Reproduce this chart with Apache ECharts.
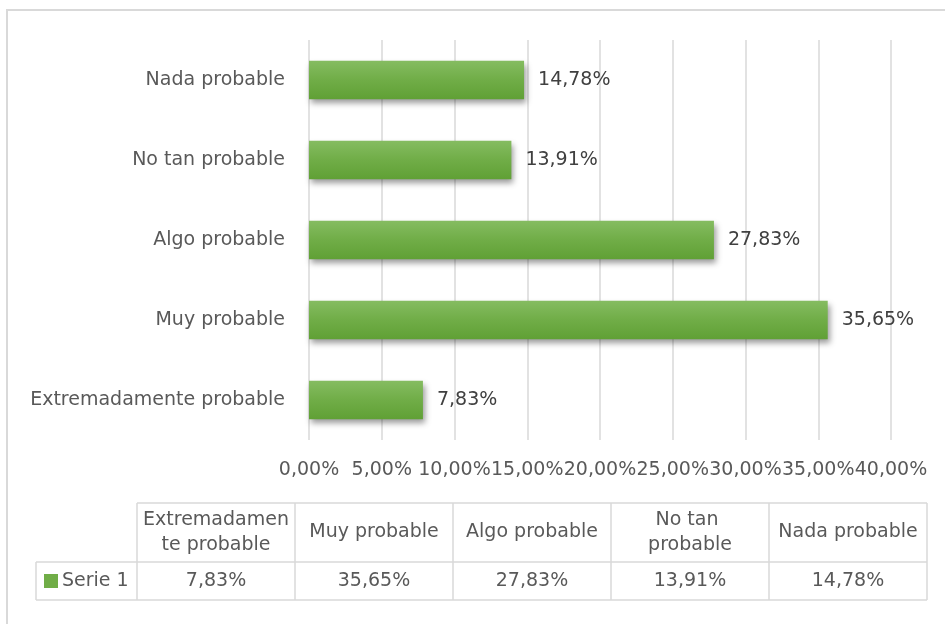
<!DOCTYPE html>
<html>
<head>
<meta charset="utf-8">
<script src="https://cdn.jsdelivr.net/npm/echarts@6/dist/echarts.min.js"></script>
<style>
  html, body { margin: 0; padding: 0; background: #fff; }
  #chart { width: 945px; height: 624px; }
</style>
</head>
<body>
<div id="chart"></div>
<script>
// Survey answers, listed bottom-to-top on the chart and left-to-right in the table
const categories = ['Extremadamente probable', 'Muy probable', 'Algo probable', 'No tan probable', 'Nada probable'];
const serie1 = [7.83, 35.65, 27.83, 13.91, 14.78];
const seriesName = 'Serie 1';

const FONT = 'DejaVu Sans';
const FS = 19;
const TXT = '#595959';
const pct = v => v.toFixed(2).replace('.', ',') + '%';

const chart = echarts.init(document.getElementById('chart'), null, { renderer: 'canvas' });

// Data table under the plot: one header row of categories, one row of values
const tbl = { left: 36, firstCol: 137, colW: 158, top: 503, headH: 59, rowH: 38 };
const tableGraphics = [];
const lineStyle = { stroke: '#d9d9d9', lineWidth: 1.5 };
const right = tbl.firstCol + categories.length * tbl.colW;
const midY = tbl.top + tbl.headH;
const botY = midY + tbl.rowH;
// horizontal rules
tableGraphics.push({ type: 'line', shape: { x1: tbl.firstCol, y1: tbl.top, x2: right, y2: tbl.top }, style: lineStyle, silent: true });
tableGraphics.push({ type: 'line', shape: { x1: tbl.left, y1: midY, x2: right, y2: midY }, style: lineStyle, silent: true });
tableGraphics.push({ type: 'line', shape: { x1: tbl.left, y1: botY, x2: right, y2: botY }, style: lineStyle, silent: true });
// vertical rules
tableGraphics.push({ type: 'line', shape: { x1: tbl.left, y1: midY, x2: tbl.left, y2: botY }, style: lineStyle, silent: true });
for (let i = 0; i <= categories.length; i++) {
  const x = tbl.firstCol + i * tbl.colW;
  tableGraphics.push({ type: 'line', shape: { x1: x, y1: tbl.top, x2: x, y2: botY }, style: lineStyle, silent: true });
}
// header + value cells
categories.forEach((c, i) => {
  const cx = tbl.firstCol + (i + 0.5) * tbl.colW;
  tableGraphics.push({
    type: 'text', x: cx, y: tbl.top + tbl.headH / 2,
    style: { text: c, width: tbl.colW - 10, overflow: 'break', fill: TXT, font: FS + 'px ' + FONT,
             align: 'center', verticalAlign: 'middle', lineHeight: 25 }
  });
  tableGraphics.push({
    type: 'text', x: cx, y: midY + tbl.rowH / 2,
    style: { text: pct(serie1[i]), fill: TXT, font: FS + 'px ' + FONT, align: 'center', verticalAlign: 'middle' }
  });
});
// legend key in the first column
tableGraphics.push({ type: 'rect', shape: { x: 44, y: 574, width: 14, height: 14 }, style: { fill: '#70ad47' } });
tableGraphics.push({
  type: 'text', x: 62, y: midY + tbl.rowH / 2,
  style: { text: seriesName, fill: TXT, font: FS + 'px ' + FONT, align: 'left', verticalAlign: 'middle' }
});
// chart-area frame
tableGraphics.push({ type: 'rect', shape: { x: 7, y: 10, width: 960, height: 640 }, style: { fill: 'none', stroke: '#d9d9d9', lineWidth: 2 }, silent: true });

chart.setOption({
  backgroundColor: '#fff',
  animation: false,
  grid: { left: 309, right: 54, top: 40, bottom: 184, containLabel: false },
  xAxis: {
    type: 'value', min: 0, max: 40, interval: 5,
    axisLine: { show: false }, axisTick: { show: false },
    splitLine: { show: true, lineStyle: { color: '#d9d9d9', width: 1.5 } },
    axisLabel: { color: TXT, fontFamily: FONT, fontSize: FS, margin: 21, formatter: v => pct(v) }
  },
  yAxis: {
    type: 'category', data: categories,
    axisLine: { show: false }, axisTick: { show: false },
    axisLabel: { color: TXT, fontFamily: FONT, fontSize: FS, margin: 24 }
  },
  series: [{
    name: seriesName, type: 'bar', data: serie1, barCategoryGap: '52%',
    itemStyle: {
      color: new echarts.graphic.LinearGradient(0, 0, 0, 1, [
        { offset: 0, color: '#85bc61' },
        { offset: 0.5, color: '#70ad47' },
        { offset: 1, color: '#60a035' }
      ]),
      shadowColor: 'rgba(0,0,0,0.4)', shadowBlur: 6, shadowOffsetX: 2, shadowOffsetY: 4
    },
    label: { show: true, position: 'right', distance: 14, color: '#404040', fontFamily: FONT, fontSize: FS, formatter: p => pct(p.value) }
  }],
  graphic: tableGraphics
});
</script>
</body>
</html>
